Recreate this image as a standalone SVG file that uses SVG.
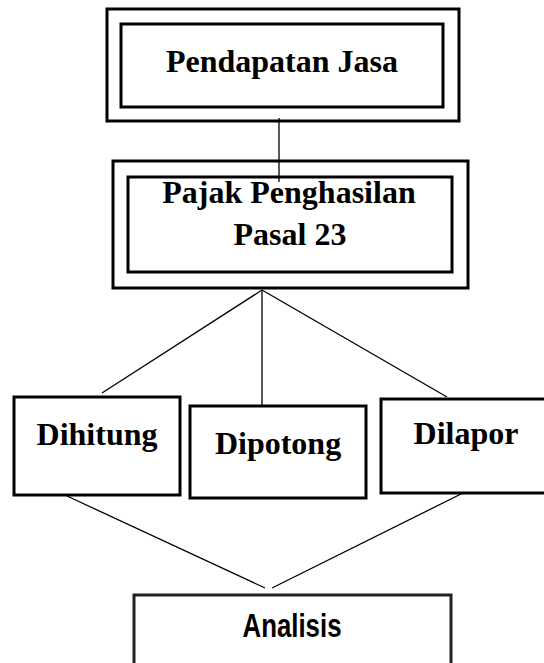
<svg xmlns="http://www.w3.org/2000/svg" width="544" height="663" viewBox="0 0 544 663">
<style>
.box{fill:#fff;stroke:#000;stroke-width:3}
.frame{fill:none;stroke:#000;stroke-width:3}
.lbl{font-family:"Liberation Serif","Times New Roman",serif;font-weight:bold;font-size:32px;fill:#000;text-anchor:middle}
.sans{font-family:"Liberation Sans",Arial,sans-serif;font-weight:bold;font-size:33px;fill:#000;text-anchor:middle}
.conn line{stroke:#000;stroke-width:1.3}
</style>
<rect width="544" height="663" fill="#fff"/>
<g id="connectors" class="conn">
<line x1="279" y1="118" x2="279" y2="182"/>
<line x1="262" y1="290" x2="102" y2="393"/>
<line x1="262" y1="290" x2="262" y2="406"/>
<line x1="262" y1="290" x2="447" y2="397"/>
<line x1="67" y1="496" x2="265" y2="588"/>
<line x1="463" y1="493" x2="272" y2="588"/>
</g>
<g id="pendapatan">
<rect class="frame" x="107" y="9" width="352" height="112"/>
<rect class="frame" x="121" y="24" width="322" height="83"/>
<text class="lbl" x="282" y="72">Pendapatan Jasa</text>
</g>
<g id="pajak">
<rect class="frame" x="113" y="161" width="355" height="127"/>
<rect class="frame" x="128" y="177" width="324" height="95"/>
<text class="lbl" x="289" y="203">Pajak Penghasilan</text>
<text class="lbl" x="290" y="245">Pasal 23</text>
</g>
<g id="dihitung">
<rect class="box" x="14" y="397" width="166" height="98"/>
<text class="lbl" x="97" y="445">Dihitung</text>
</g>
<g id="dipotong">
<rect class="box" x="190" y="406" width="176" height="92"/>
<text class="lbl" x="278" y="454">Dipotong</text>
</g>
<g id="dilapor">
<rect class="box" x="381" y="399" width="170" height="94"/>
<text class="lbl" x="466" y="444">Dilapor</text>
</g>
<g id="analisis">
<rect class="box" x="134" y="595" width="317" height="80" style="stroke:#222"/>
<text class="sans" x="292" y="637" textLength="99" lengthAdjust="spacingAndGlyphs">Analisis</text>
</g>
</svg>
